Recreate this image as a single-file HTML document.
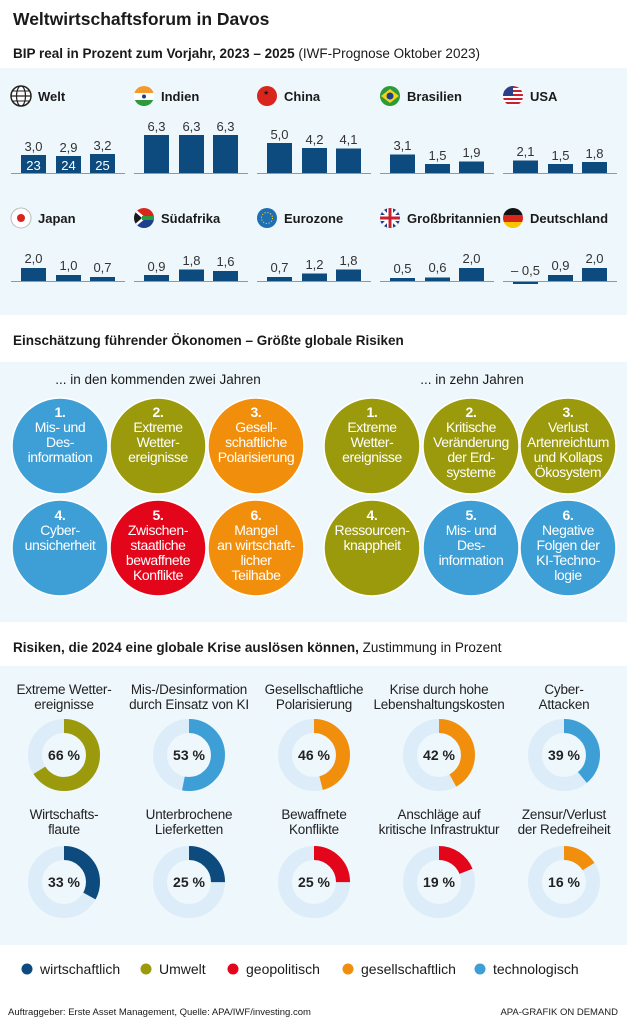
<!DOCTYPE html>
<html><head><meta charset="utf-8"><style>
html,body{margin:0;padding:0;background:#fff}
svg{display:block}
text{font-family:"Liberation Sans",Arial,sans-serif;fill:#1a1a1a}
.b{font-weight:bold}
.v{font-size:13px;text-anchor:middle;fill:#333}
.n{font-size:13px;font-weight:bold}
.c{font-size:14px;text-anchor:middle;fill:#fff;letter-spacing:-0.4px}
.d{font-size:13.5px;text-anchor:middle;fill:#222;letter-spacing:-0.2px}
.p{font-size:14px;font-weight:bold;text-anchor:middle;fill:#222}
</style></head><body>
<svg width="627" height="1024" viewBox="0 0 627 1024" xmlns="http://www.w3.org/2000/svg">
<rect width="627" height="1024" fill="#fff"/>
<text x="13" y="25" class="b" font-size="17.5">Weltwirtschaftsforum in Davos</text>
<text x="13" y="58" font-size="13.5"><tspan class="b">BIP real in Prozent zum Vorjahr, 2023 – 2025</tspan> (IWF-Prognose Oktober 2023)</text>
<rect x="0" y="68" width="627" height="247" fill="#eef7fc"/>

<g>
<circle cx="21" cy="96" r="10" fill="#fff" stroke="#222" stroke-width="1.5"/>
<ellipse cx="21" cy="96" rx="4.5" ry="10" fill="none" stroke="#222" stroke-width="1.2"/>
<line x1="11" y1="96" x2="31" y2="96" stroke="#222" stroke-width="1.2"/>
<line x1="13" y1="91" x2="29" y2="91" stroke="#222" stroke-width="1"/>
<line x1="13" y1="101" x2="29" y2="101" stroke="#222" stroke-width="1"/>
<text x="38" y="101" class="n">Welt</text>
<clipPath id="c1"><circle cx="144" cy="96" r="10"/></clipPath>
<g clip-path="url(#c1)"><rect x="134" y="86" width="20" height="7" fill="#f39a2b"/><rect x="134" y="93" width="20" height="7" fill="#fff"/><rect x="134" y="100" width="20" height="7" fill="#2c9a3a"/><circle cx="144" cy="96.5" r="2" fill="#1a3c8c"/></g>
<text x="161" y="101" class="n">Indien</text>
<circle cx="267" cy="96" r="10" fill="#d9251c"/><text x="263" y="95" font-size="7" fill="#ffd200">★</text>
<text x="284" y="101" class="n">China</text>
<circle cx="390" cy="96" r="10" fill="#2a9a3a"/><polygon points="381,96 390,89 399,96 390,103" fill="#f7d117"/><circle cx="390" cy="96" r="3.5" fill="#1d3f8c"/>
<text x="407" y="101" class="n">Brasilien</text>
<clipPath id="c5"><circle cx="513" cy="96" r="10"/></clipPath>
<g clip-path="url(#c5)"><rect x="503" y="86" width="20" height="20" fill="#fff"/>
<rect x="503" y="86" width="20" height="2" fill="#c8202f"/><rect x="503" y="90" width="20" height="2" fill="#c8202f"/><rect x="503" y="94" width="20" height="2" fill="#c8202f"/><rect x="503" y="98" width="20" height="2" fill="#c8202f"/><rect x="503" y="102" width="20" height="2" fill="#c8202f"/><rect x="503" y="86" width="10" height="10" fill="#2b3f86"/></g>
<text x="530" y="101" class="n">USA</text>
</g>
<g fill="#0d4a7e">
<rect x="21" y="155" width="25" height="18"/><rect x="56" y="156" width="25" height="17"/><rect x="90" y="154" width="25" height="19"/>
<rect x="144" y="135" width="25" height="38"/><rect x="179" y="135" width="25" height="38"/><rect x="213" y="135" width="25" height="38"/>
<rect x="267" y="143" width="25" height="30"/><rect x="302" y="148" width="25" height="25"/><rect x="336" y="148.5" width="25" height="24.5"/>
<rect x="390" y="154.5" width="25" height="18.5"/><rect x="425" y="164" width="25" height="9"/><rect x="459" y="161.5" width="25" height="11.5"/>
<rect x="513" y="160.5" width="25" height="12.5"/><rect x="548" y="164" width="25" height="9"/><rect x="582" y="162" width="25" height="11"/>
</g>
<g stroke="#8a9aa8" stroke-width="1">
<line x1="11" y1="173.5" x2="125" y2="173.5"/><line x1="134" y1="173.5" x2="248" y2="173.5"/><line x1="257" y1="173.5" x2="371" y2="173.5"/><line x1="380" y1="173.5" x2="494" y2="173.5"/><line x1="503" y1="173.5" x2="617" y2="173.5"/>
</g>
<g>
<text x="33.5" y="151" class="v">3,0</text><text x="68.5" y="152" class="v">2,9</text><text x="102.5" y="150" class="v">3,2</text>
<text x="33.5" y="170" class="v" style="fill:#fff">23</text><text x="68.5" y="170" class="v" style="fill:#fff">24</text><text x="102.5" y="170" class="v" style="fill:#fff">25</text>
<text x="156.5" y="131" class="v">6,3</text><text x="191.5" y="131" class="v">6,3</text><text x="225.5" y="131" class="v">6,3</text>
<text x="279.5" y="139" class="v">5,0</text><text x="314.5" y="144" class="v">4,2</text><text x="348.5" y="144" class="v">4,1</text>
<text x="402.5" y="150" class="v">3,1</text><text x="437.5" y="160" class="v">1,5</text><text x="471.5" y="157" class="v">1,9</text>
<text x="525.5" y="156" class="v">2,1</text><text x="560.5" y="160" class="v">1,5</text><text x="594.5" y="158" class="v">1,8</text>
</g>

<circle cx="21" cy="218" r="10" fill="#fff" stroke="#bbb" stroke-width="1"/><circle cx="21" cy="218" r="4" fill="#d9251c"/>
<text x="38" y="223" class="n">Japan</text>
<clipPath id="c7"><circle cx="144" cy="218" r="10"/></clipPath>
<g clip-path="url(#c7)"><rect x="134" y="208" width="20" height="10" fill="#d9251c"/><rect x="134" y="218" width="20" height="10" fill="#1d3f8c"/><polygon points="134,208 146,218 134,228" fill="#fff"/><polygon points="134,211 142,218 134,225" fill="#1a1a1a"/><rect x="142" y="216" width="12" height="4" fill="#2a9a3a"/></g>
<text x="161" y="223" class="n">Südafrika</text>
<circle cx="267" cy="218" r="10" fill="#1e6fb3"/><circle cx="267" cy="218" r="5.5" fill="none" stroke="#f7d117" stroke-width="1" stroke-dasharray="1.2 1.7"/>
<text x="284" y="223" class="n">Eurozone</text>
<clipPath id="c9"><circle cx="390" cy="218" r="10"/></clipPath>
<g clip-path="url(#c9)"><rect x="380" y="208" width="20" height="20" fill="#1d3f8c"/><line x1="380" y1="208" x2="400" y2="228" stroke="#fff" stroke-width="3"/><line x1="400" y1="208" x2="380" y2="228" stroke="#fff" stroke-width="3"/><rect x="387" y="208" width="6" height="20" fill="#fff"/><rect x="380" y="215" width="20" height="6" fill="#fff"/><rect x="388.5" y="208" width="3" height="20" fill="#c8202f"/><rect x="380" y="216.5" width="20" height="3" fill="#c8202f"/></g>
<text x="407" y="223" class="n">Großbritannien</text>
<clipPath id="c10"><circle cx="513" cy="218" r="10"/></clipPath>
<g clip-path="url(#c10)"><rect x="503" y="208" width="20" height="7" fill="#111"/><rect x="503" y="215" width="20" height="7" fill="#d9251c"/><rect x="503" y="222" width="20" height="7" fill="#f7c600"/></g>
<text x="530" y="223" class="n">Deutschland</text>
<g fill="#0d4a7e">
<rect x="21" y="268" width="25" height="13"/><rect x="56" y="275" width="25" height="6"/><rect x="90" y="277" width="25" height="4"/>
<rect x="144" y="275" width="25" height="6"/><rect x="179" y="269.5" width="25" height="11.5"/><rect x="213" y="271" width="25" height="10"/>
<rect x="267" y="277" width="25" height="4"/><rect x="302" y="273.5" width="25" height="7.5"/><rect x="336" y="269.5" width="25" height="11.5"/>
<rect x="390" y="278" width="25" height="3"/><rect x="425" y="277.5" width="25" height="3.5"/><rect x="459" y="268" width="25" height="13"/>
<rect x="513" y="281" width="25" height="3"/><rect x="548" y="275" width="25" height="6"/><rect x="582" y="268" width="25" height="13"/>
</g>
<g stroke="#8a9aa8" stroke-width="1">
<line x1="11" y1="281.5" x2="125" y2="281.5"/><line x1="134" y1="281.5" x2="248" y2="281.5"/><line x1="257" y1="281.5" x2="371" y2="281.5"/><line x1="380" y1="281.5" x2="494" y2="281.5"/><line x1="503" y1="281.5" x2="617" y2="281.5"/>
</g>
<g>
<text x="33.5" y="263" class="v">2,0</text><text x="68.5" y="270" class="v">1,0</text><text x="102.5" y="272" class="v">0,7</text>
<text x="156.5" y="271" class="v">0,9</text><text x="191.5" y="265" class="v">1,8</text><text x="225.5" y="266" class="v">1,6</text>
<text x="279.5" y="272" class="v">0,7</text><text x="314.5" y="269" class="v">1,2</text><text x="348.5" y="265" class="v">1,8</text>
<text x="402.5" y="273" class="v">0,5</text><text x="437.5" y="272" class="v">0,6</text><text x="471.5" y="263" class="v">2,0</text>
<text x="525.5" y="275" class="v">– 0,5</text><text x="560.5" y="270" class="v">0,9</text><text x="594.5" y="263" class="v">2,0</text>
</g>

<text x="13" y="345" class="b" font-size="13.5">Einschätzung führender Ökonomen – Größte globale Risiken</text>
<rect x="0" y="362" width="627" height="260" fill="#eef7fc"/>
<text x="158" y="384" font-size="13.5" text-anchor="middle" fill="#222">... in den kommenden zwei Jahren</text>
<text x="472" y="384" font-size="13.5" text-anchor="middle" fill="#222">... in zehn Jahren</text>
<g stroke="#fff" stroke-width="1.5">
<circle cx="60" cy="446" r="48" fill="#3d9fd6"/><circle cx="158" cy="446" r="48" fill="#9b9a0c"/><circle cx="256" cy="446" r="48" fill="#f18f0c"/>
<circle cx="60" cy="548" r="48" fill="#3d9fd6"/><circle cx="158" cy="548" r="48" fill="#e3061b"/><circle cx="256" cy="548" r="48" fill="#f18f0c"/>
<circle cx="372" cy="446" r="48" fill="#9b9a0c"/><circle cx="471" cy="446" r="48" fill="#9b9a0c"/><circle cx="568" cy="446" r="48" fill="#9b9a0c"/>
<circle cx="372" cy="548" r="48" fill="#9b9a0c"/><circle cx="471" cy="548" r="48" fill="#3d9fd6"/><circle cx="568" cy="548" r="48" fill="#3d9fd6"/>
</g>
<g>
<text x="60" y="417" class="c b">1.</text><text x="60" y="432" class="c">Mis- und</text><text x="60" y="447" class="c">Des-</text><text x="60" y="462" class="c">information</text>
<text x="158" y="417" class="c b">2.</text><text x="158" y="432" class="c">Extreme</text><text x="158" y="447" class="c">Wetter-</text><text x="158" y="462" class="c">ereignisse</text>
<text x="256" y="417" class="c b">3.</text><text x="256" y="432" class="c">Gesell-</text><text x="256" y="447" class="c">schaftliche</text><text x="256" y="462" class="c">Polarisierung</text>
<text x="60" y="520" class="c b">4.</text><text x="60" y="535" class="c">Cyber-</text><text x="60" y="550" class="c">unsicherheit</text>
<text x="158" y="520" class="c b">5.</text><text x="158" y="535" class="c">Zwischen-</text><text x="158" y="550" class="c">staatliche</text><text x="158" y="565" class="c">bewaffnete</text><text x="158" y="580" class="c">Konflikte</text>
<text x="256" y="520" class="c b">6.</text><text x="256" y="535" class="c">Mangel</text><text x="256" y="550" class="c">an wirtschaft-</text><text x="256" y="565" class="c">licher</text><text x="256" y="580" class="c">Teilhabe</text>
<text x="372" y="417" class="c b">1.</text><text x="372" y="432" class="c">Extreme</text><text x="372" y="447" class="c">Wetter-</text><text x="372" y="462" class="c">ereignisse</text>
<text x="471" y="417" class="c b">2.</text><text x="471" y="432" class="c">Kritische</text><text x="471" y="447" class="c">Veränderung</text><text x="471" y="462" class="c">der Erd-</text><text x="471" y="477" class="c">systeme</text>
<text x="568" y="417" class="c b">3.</text><text x="568" y="432" class="c">Verlust</text><text x="568" y="447" class="c">Artenreichtum</text><text x="568" y="462" class="c">und Kollaps</text><text x="568" y="477" class="c">Ökosystem</text>
<text x="372" y="520" class="c b">4.</text><text x="372" y="535" class="c">Ressourcen-</text><text x="372" y="550" class="c">knappheit</text>
<text x="471" y="520" class="c b">5.</text><text x="471" y="535" class="c">Mis- und</text><text x="471" y="550" class="c">Des-</text><text x="471" y="565" class="c">information</text>
<text x="568" y="520" class="c b">6.</text><text x="568" y="535" class="c">Negative</text><text x="568" y="550" class="c">Folgen der</text><text x="568" y="565" class="c">KI-Techno-</text><text x="568" y="580" class="c">logie</text>
</g>

<text x="13" y="652" font-size="13.5"><tspan class="b">Risiken, die 2024 eine globale Krise auslösen können,</tspan> Zustimmung in Prozent</text>
<rect x="0" y="666" width="627" height="279" fill="#eef7fc"/>
<g fill="none" stroke="#dcedf9" stroke-width="14">
<circle cx="64" cy="755" r="29"/><circle cx="189" cy="755" r="29"/><circle cx="314" cy="755" r="29"/><circle cx="439" cy="755" r="29"/><circle cx="564" cy="755" r="29"/>
<circle cx="64" cy="882" r="29"/><circle cx="189" cy="882" r="29"/><circle cx="314" cy="882" r="29"/><circle cx="439" cy="882" r="29"/><circle cx="564" cy="882" r="29"/>
</g>
<g fill="none" stroke-width="14">
<circle cx="64" cy="755" r="29" stroke="#9b9a0c" stroke-dasharray="120.3 200" transform="rotate(-90 64 755)"/>
<circle cx="189" cy="755" r="29" stroke="#3d9fd6" stroke-dasharray="96.6 200" transform="rotate(-90 189 755)"/>
<circle cx="314" cy="755" r="29" stroke="#f18f0c" stroke-dasharray="83.8 200" transform="rotate(-90 314 755)"/>
<circle cx="439" cy="755" r="29" stroke="#f18f0c" stroke-dasharray="76.5 200" transform="rotate(-90 439 755)"/>
<circle cx="564" cy="755" r="29" stroke="#3d9fd6" stroke-dasharray="71.1 200" transform="rotate(-90 564 755)"/>
<circle cx="64" cy="882" r="29" stroke="#0d4a7e" stroke-dasharray="60.1 200" transform="rotate(-90 64 882)"/>
<circle cx="189" cy="882" r="29" stroke="#0d4a7e" stroke-dasharray="45.6 200" transform="rotate(-90 189 882)"/>
<circle cx="314" cy="882" r="29" stroke="#e3061b" stroke-dasharray="45.6 200" transform="rotate(-90 314 882)"/>
<circle cx="439" cy="882" r="29" stroke="#e3061b" stroke-dasharray="34.6 200" transform="rotate(-90 439 882)"/>
<circle cx="564" cy="882" r="29" stroke="#f18f0c" stroke-dasharray="29.2 200" transform="rotate(-90 564 882)"/>
</g>
<g>
<text x="64" y="760" class="p">66 %</text><text x="189" y="760" class="p">53 %</text><text x="314" y="760" class="p">46 %</text><text x="439" y="760" class="p">42 %</text><text x="564" y="760" class="p">39 %</text>
<text x="64" y="887" class="p">33 %</text><text x="189" y="887" class="p">25 %</text><text x="314" y="887" class="p">25 %</text><text x="439" y="887" class="p">19 %</text><text x="564" y="887" class="p">16 %</text>
<text x="64" y="694" class="d">Extreme Wetter-</text><text x="64" y="709" class="d">ereignisse</text>
<text x="189" y="694" class="d">Mis-/Desinformation</text><text x="189" y="709" class="d">durch Einsatz von KI</text>
<text x="314" y="694" class="d">Gesellschaftliche</text><text x="314" y="709" class="d">Polarisierung</text>
<text x="439" y="694" class="d">Krise durch hohe</text><text x="439" y="709" class="d">Lebenshaltungskosten</text>
<text x="564" y="694" class="d">Cyber-</text><text x="564" y="709" class="d">Attacken</text>
<text x="64" y="819" class="d">Wirtschafts-</text><text x="64" y="834" class="d">flaute</text>
<text x="189" y="819" class="d">Unterbrochene</text><text x="189" y="834" class="d">Lieferketten</text>
<text x="314" y="819" class="d">Bewaffnete</text><text x="314" y="834" class="d">Konflikte</text>
<text x="439" y="819" class="d">Anschläge auf</text><text x="439" y="834" class="d">kritische Infrastruktur</text>
<text x="564" y="819" class="d">Zensur/Verlust</text><text x="564" y="834" class="d">der Redefreiheit</text>
</g>

<circle cx="27" cy="969" r="5.5" fill="#0d4a7e"/><text x="40" y="974" font-size="14" fill="#222">wirtschaftlich</text>
<circle cx="146" cy="969" r="5.5" fill="#9b9a0c"/><text x="159" y="974" font-size="14" fill="#222">Umwelt</text>
<circle cx="233" cy="969" r="5.5" fill="#e3061b"/><text x="246" y="974" font-size="14" fill="#222">geopolitisch</text>
<circle cx="348" cy="969" r="5.5" fill="#f18f0c"/><text x="361" y="974" font-size="14" fill="#222">gesellschaftlich</text>
<circle cx="480" cy="969" r="5.5" fill="#3d9fd6"/><text x="493" y="974" font-size="14" fill="#222">technologisch</text>
<text x="8" y="1015" font-size="9.5" fill="#333">Auftraggeber: Erste Asset Management, Quelle: APA/IWF/investing.com</text>
<text x="618" y="1015" font-size="9.5" fill="#666" text-anchor="end">APA-GRAFIK ON DEMAND</text>
</svg>
</body></html>
